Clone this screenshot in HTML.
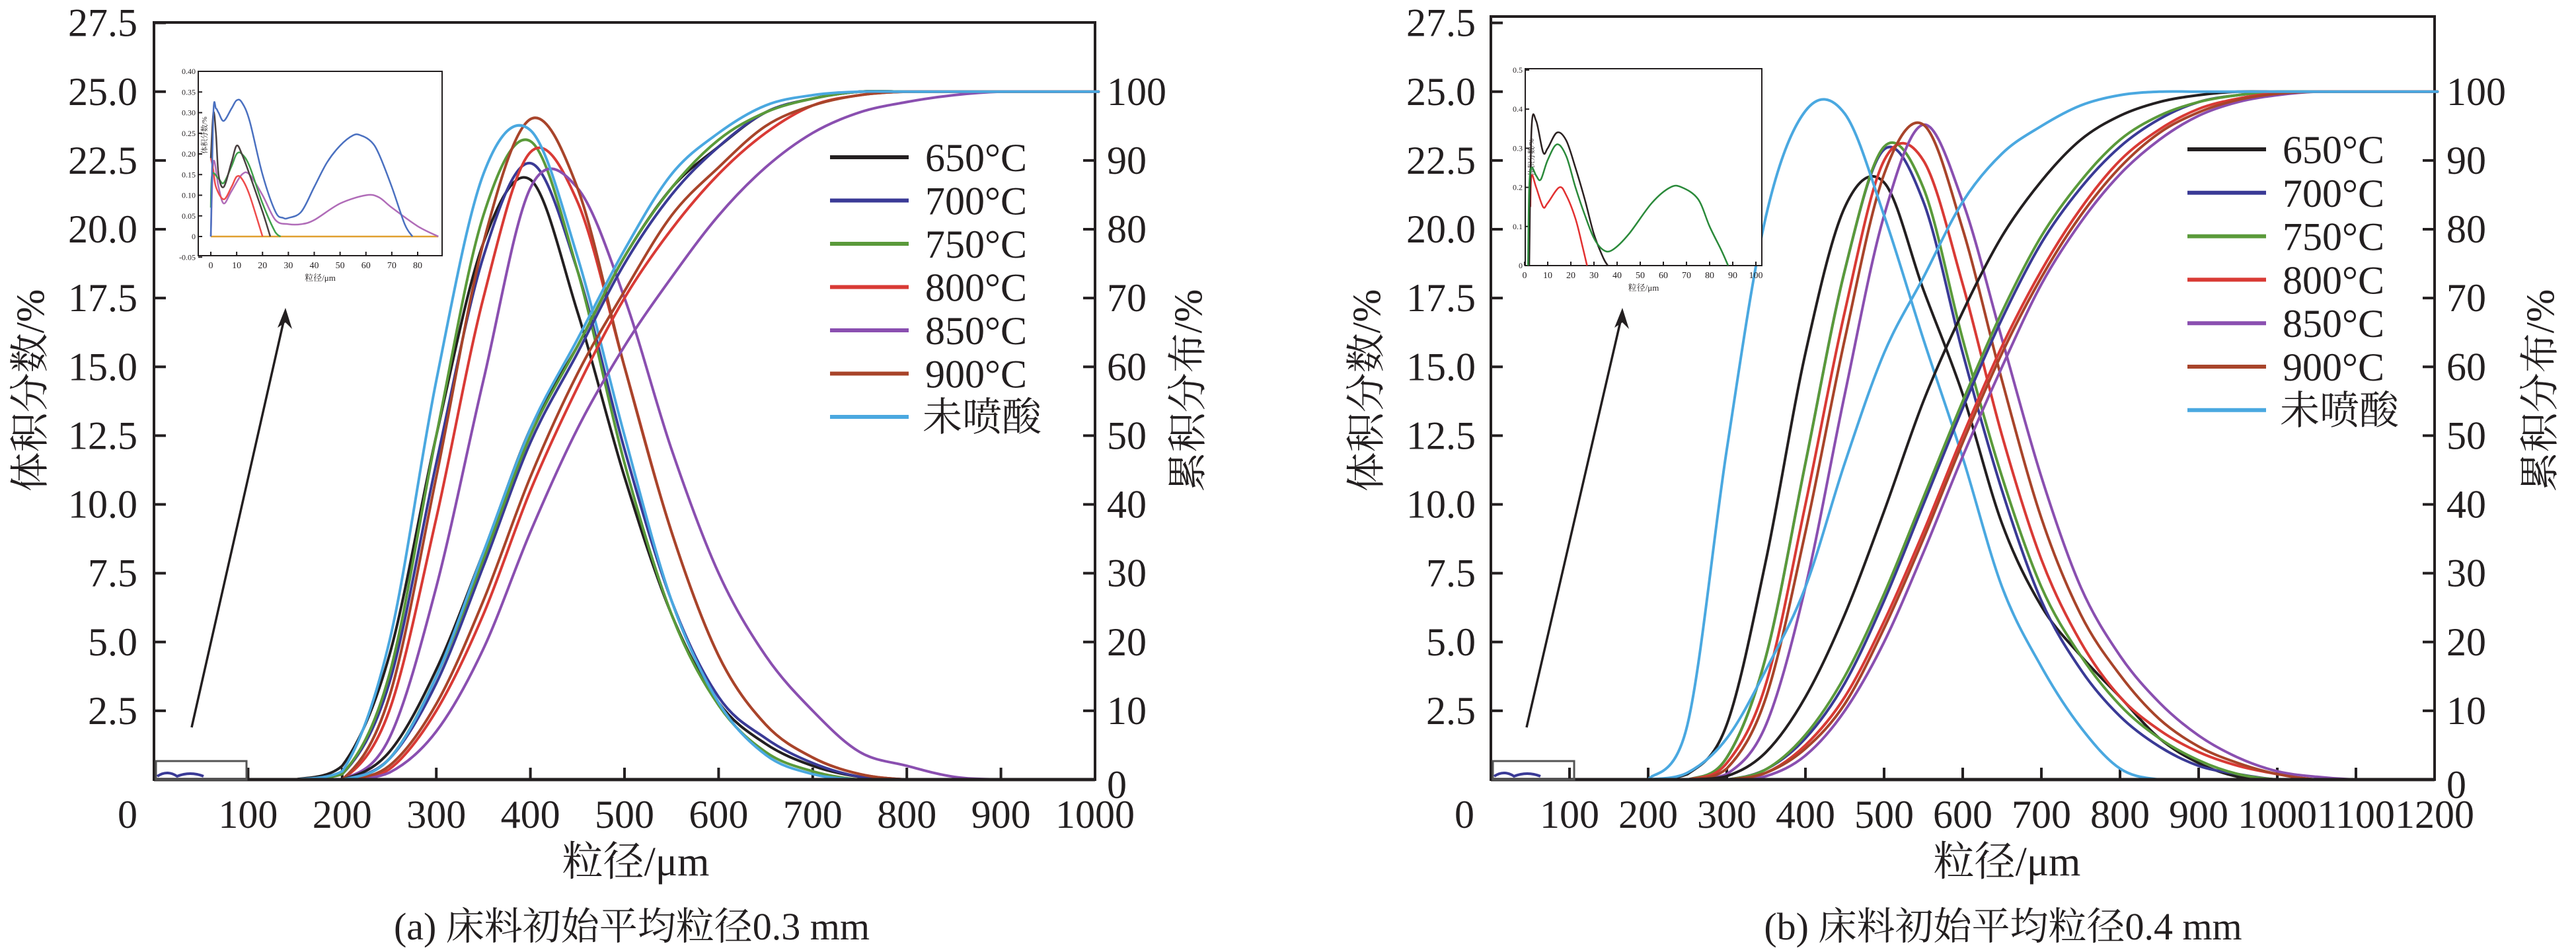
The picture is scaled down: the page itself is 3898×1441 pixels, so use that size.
<!DOCTYPE html>
<html><head><meta charset="utf-8"><style>
html,body{margin:0;padding:0;background:#fff;}
svg{display:block;font-family:"Liberation Serif","Noto Serif CJK SC",serif;}
</style></head><body>
<svg id="fig" width="3898" height="1441" viewBox="0 0 3898 1441" xmlns="http://www.w3.org/2000/svg">
<rect x="0" y="0" width="3898" height="1441" fill="#fff"/>
<g id="chartA"></g>
<g id="chartB"></g>
</svg>
<script>
// ---------- data ----------
const seriesNames = ["650°C","700°C","750°C","800°C","850°C","900°C","未喷酸"];
const seriesColors = ["#231f20","#3a3a96","#5a9a3a","#d93a35","#8a4fb0","#a8442a","#4aa8e0"];
const yLeftTicks = ["2.5","5.0","7.5","10.0","12.5","15.0","17.5","20.0","22.5","25.0","27.5"];
const yRightTicks = ["0","10","20","30","40","50","60","70","80","90","100"];

const xsA = [150,200,250,300,350,400,450,500,550,600,650,700,750,800,850,900,950,1000];
const xTicksA = [0,100,200,300,400,500,600,700,800,900,1000];
const freqA650 = [0,0.5,4.5,12.5,19.5,21.8,17,11,6,2.8,1.3,0.5,0.1,0,0,0,0,0];
const freqA700 = [0,0.2,3.5,11.5,19,22.4,18.5,12,6.5,3,1.5,0.6,0.1,0,0,0,0,0];
const freqA750 = [0,0.2,3.8,12.5,20.5,23.2,18.5,11.5,6,2.7,1,0.3,0,0,0,0,0,0];
const freqA800 = [0,0,2.5,9.5,17.5,22.8,21,15,9,4.5,2,0.8,0.2,0,0,0,0,0];
const freqA850 = [0,0,1.5,7,14.5,21.5,21.5,17.5,12,7.5,4.5,2.5,1,0.5,0.1,0,0,0];
const freqA900 = [0,0,3,11,19.5,24,21.5,15,9,4.5,2,0.8,0.2,0,0,0,0,0];
const freqAraw = [0,0.3,5,14.5,22,23.6,19,12.5,6.5,2.8,0.9,0.2,0,0,0,0,0,0];
const cumA650 = [0,0,4,16,33,51,63,76,86,92,97,99,100,100,100,100,100,100];
const cumA700 = [0,0,3,14,31,49,62,75,85,92,97,99,100,100,100,100,100,100];
const cumA750 = [0,0,3,15,32,50,63,76,86,93,97,99,100,100,100,100,100,100];
const cumA800 = [0,0,1.5,10,24,42,57,70,80,88,94,98,99.5,100,100,100,100,100];
const cumA850 = [0,0,1,7,19,36,51,63,73,82,89,94,97,98.5,99.5,100,100,100];
const cumA900 = [0,0,2,11,26,44,59,71,82,89,95,98,99.5,100,100,100,100,100];
const cumAraw = [0,0,3,15,33,51,64,77,88,94,98,99.5,100,100,100,100,100,100];

const xsB = [200,250,300,350,400,450,500,550,600,650,700,750,800,850,900,950,1000,1050,1100,1150,1200];
const xTicksB = [0,100,200,300,400,500,600,700,800,900,1000,1100,1200];
const freqB650 = [0,0.2,2,8,15.5,20.8,21.7,17.8,14,9.3,6.3,4.5,3,1.5,0.6,0.1,0,0,0,0,0];
const freqB700 = [0,0,0.8,4.5,11.5,18.5,22.9,21,15.5,10.5,6.5,4,2.3,1.2,0.5,0.2,0,0,0,0,0];
const freqB750 = [0,0,0.8,4.5,11.5,18.5,23,21.5,16,11,7,4.5,2.7,1.5,0.7,0.2,0,0,0,0,0];
const freqB800 = [0,0,0.6,3.5,10,17,22.5,22.5,18,12.5,8,5,3,1.8,1,0.5,0.2,0,0,0,0];
const freqB850 = [0,0,0.2,2,7,14,20.5,23.8,21,16,11,7,4.5,2.8,1.6,0.8,0.3,0.1,0,0,0];
const freqB900 = [0,0,0.4,3,9,16,22,23.8,20,14.5,9.5,6,3.8,2.2,1.2,0.6,0.2,0,0,0,0];
const freqBraw = [0,2,12,20.5,24.3,24.2,20.5,16,11.7,7,4.1,1.9,0.4,0,0,0,0,0,0,0,0];
const cumB650 = [0,0,0.5,4,12,24,39,55,68,79,87,93,96.5,98.5,99.5,100,100,100,100,100,100];
const cumB700 = [0,0,0,1.5,6,14,26,40,54,67,78,86,92,96,98.5,99.5,100,100,100,100,100];
const cumB750 = [0,0,0,1.5,6.5,15,27,41,55,68,79,87,93,96.5,98.5,99.5,100,100,100,100,100];
const cumB800 = [0,0,0,1,5,12,23,36,50,63,74,83,90,94.5,97.5,99,99.8,100,100,100,100];
const cumB850 = [0,0,0,0.5,3.5,10,20,33,47,60,72,81,88,93,96.5,98.5,99.5,100,100,100,100];
const cumB900 = [0,0,0,1,4.5,11,22,35,49,62,73,82,89,94,97,98.8,99.7,100,100,100,100];
const cumBraw = [0,1,6,16,28,46,62,73,84,91,95,98,99.5,100,100,100,100,100,100,100,100];

// insets
const insAxTicksY = ["-0.05","0","0.05","0.10","0.15","0.20","0.25","0.30","0.35","0.40"];
const insAxTicksX = [0,10,20,30,40,50,60,70,80];
const insAblueX = [0,1,2,3,5,8,10,12,15,20,25,28,30,35,40,45,50,55,58,62,65,70,75,78];
const insAblueY = [0,0.3,0.31,0.3,0.28,0.31,0.33,0.325,0.28,0.15,0.06,0.045,0.045,0.06,0.12,0.18,0.22,0.245,0.245,0.23,0.2,0.12,0.03,0];
const insAblackX = [0,1,2,3,5,8,10,12,15,20,23];
const insAblackY = [0.19,0.3,0.25,0.15,0.12,0.18,0.22,0.2,0.15,0.06,0];
const insAgreenX = [0,0.5,3,5,8,10,12,15,20,25,27];
const insAgreenY = [0.07,0.15,0.14,0.13,0.17,0.2,0.2,0.17,0.08,0.01,0];
const insAredX = [0,1,2,5,8,10,12,15,20];
const insAredY = [0.19,0.16,0.12,0.09,0.12,0.145,0.14,0.1,0];
const insApurpleX = [0,1,3,5,8,12,15,20,25,30,35,40,50,60,65,70,80,88];
const insApurpleY = [0,0.18,0.12,0.08,0.11,0.15,0.15,0.1,0.04,0.03,0.03,0.04,0.08,0.1,0.095,0.07,0.025,0];
const insBTicksY = ["0","0.1","0.2","0.3","0.4","0.5"];
const insBTicksX = [0,10,20,30,40,50,60,70,80,90,100];
const insBblackX = [2,3,5,8,10,14,18,22,26,30,34,36];
const insBblackY = [0,0.35,0.37,0.29,0.3,0.34,0.32,0.25,0.17,0.08,0.02,0];
const insBgreenX = [1.5,2,3,5,7,10,14,18,22,26,30,34,38,45,55,63,68,75,80,85,88];
const insBgreenY = [0,0.2,0.25,0.23,0.22,0.27,0.31,0.28,0.2,0.13,0.07,0.04,0.04,0.08,0.16,0.2,0.2,0.17,0.1,0.04,0];
const insBredX = [2.5,3,5,8,10,15,18,22,25,27];
const insBredY = [0.15,0.23,0.2,0.15,0.16,0.2,0.18,0.12,0.05,0];

// ---------- helpers ----------
const NS = "http://www.w3.org/2000/svg";
function mk(parent, tag, attrs){ const e=document.createElementNS(NS,tag); for(const k in attrs) e.setAttribute(k,attrs[k]); parent.appendChild(e); return e; }
function smooth(pts, ymaxPix){
  const cl=v=> (ymaxPix!==undefined && v>ymaxPix)?ymaxPix:v;
  let d="M"+pts[0][0].toFixed(1)+","+cl(pts[0][1]).toFixed(1);
  for(let i=0;i<pts.length-1;i++){
    const p0=pts[i-1]||pts[i], p1=pts[i], p2=pts[i+1], p3=pts[i+2]||p2;
    const c1=[p1[0]+(p2[0]-p0[0])/6, cl(p1[1]+(p2[1]-p0[1])/6)];
    const c2=[p2[0]-(p3[0]-p1[0])/6, cl(p2[1]-(p3[1]-p1[1])/6)];
    d+=" C"+c1[0].toFixed(1)+","+c1[1].toFixed(1)+" "+c2[0].toFixed(1)+","+c2[1].toFixed(1)+" "+p2[0].toFixed(1)+","+cl(p2[1]).toFixed(1);
  }
  return d;
}
function txt(parent, x, y, s, size, anchor, extra){
  const t=mk(parent,"text",Object.assign({x:x,y:y,"font-size":size,"text-anchor":anchor||"middle",fill:"#231f20"},extra||{}));
  t.textContent=s; return t;
}

function drawMain(g, cfg){
  const X=v=>cfg.x0+(v-cfg.xmin)/(cfg.xmax-cfg.xmin)*(cfg.x1-cfg.x0);
  const Y=v=>cfg.y0-v*cfg.unit;
  const Yr=v=>Y(v*0.25);
  const fr=mk(g,"rect",{x:cfg.x0,y:cfg.ftop,width:cfg.x1-cfg.x0,height:cfg.y0-cfg.ftop,fill:"none",stroke:"#231f20","stroke-width":4});
  
  
  yLeftTicks.forEach(s=>{
    const v=parseFloat(s), y=Y(v);
    const l=mk(g,"line",{x1:cfg.x0,x2:cfg.x0+18,y1:y,y2:y,stroke:"#231f20","stroke-width":4});
    
    
    const t=txt(g,cfg.ylabX,y+20,s,60,"end");
    
    
  });
  yRightTicks.forEach(s=>{
    const v=parseFloat(s), y=Yr(v);
    const l=mk(g,"line",{x1:cfg.x1-18,x2:cfg.x1,y1:y,y2:y,stroke:"#231f20","stroke-width":4});
    
    
    const t=txt(g,cfg.x1+18,y+(v===0?28:20),s,60,"start");
    
    
  });
  cfg.xticks.forEach(v=>{
    const x=X(v);
    if(v>0){
      const l=mk(g,"line",{x1:x,x2:x,y1:cfg.y0,y2:cfg.y0-18,stroke:"#231f20","stroke-width":4});
      
      
    }
    const t=txt(g,v===0?x-40:x,1253,String(v),60,"middle");
    
    
  });
  cfg.freq.forEach((arr,i)=>{
    const p=mk(g,"path",{d:smooth(arr.map((v,j)=>[X(cfg.xs[j]),Y(v)]),cfg.y0),fill:"none",stroke:seriesColors[i],"stroke-width":4});
    
    
  });
  cfg.cum.forEach((arr,i)=>{
    const pts=arr.map((v,j)=>[X(cfg.xs[j]),Yr(v)]);
    pts.push([X(cfg.xmax),Yr(100)]);
    const p=mk(g,"path",{d:smooth(pts,cfg.y0),fill:"none",stroke:seriesColors[i],"stroke-width":4});
    
    
  });
  const bl=mk(g,"line",{x1:cfg.x0,x2:cfg.x1,y1:cfg.y0,y2:cfg.y0,stroke:"#231f20","stroke-width":5});
  
  
  const sb=mk(g,"rect",{x:cfg.x0+3,y:cfg.y0-28,width:cfg.sbw,height:28,fill:"none",stroke:"#555","stroke-width":3});
  
  
  const sq=mk(g,"path",{d:`M${cfg.x0+5},${cfg.y0-5} q15,-10 30,0 q20,-8 40,0`,fill:"none",stroke:"#3a3a96","stroke-width":4});
  
  
  const ar=mk(g,"line",{x1:cfg.ax1,y1:1101,x2:cfg.ax2,y2:478,stroke:"#231f20","stroke-width":3.5});
  
  
  const ah=mk(g,"path",{d:`M${cfg.ax2+1},466 l-12,30 l12,-8 l10,10 z`,fill:"#231f20"});
  
  
  seriesNames.forEach((n,i)=>{
    const y=cfg.legY0+i*cfg.legDy;
    const l=mk(g,"line",{x1:cfg.legX,x2:cfg.legX+119,y1:y,y2:y,stroke:seriesColors[i],"stroke-width":6});
    
    
    const t=txt(g,cfg.legX+(i===6?140:144),y+21,n,60,"start");
    
    
  });
  const yt=txt(g,0,0,"体积分数/%",60,"middle",{transform:`translate(${cfg.ytL},591) rotate(-90)`});
  
  
  const yr=txt(g,0,0,"累积分布/%",60,"middle",{transform:`translate(${cfg.ytR},591) rotate(-90)`});
  
  
  const xt=txt(g,cfg.xtX,1325,"粒径/μm",62,"middle");
  
  
  const cp=txt(g,cfg.xtX-6,1422,cfg.caption,58,"middle");
  
  
}

function drawInset(g, c){
  const X=v=>c.x0+(v-c.xmin)/(c.xmax-c.xmin)*(c.x1-c.x0);
  const Y=v=>c.yz-(v/c.ystep)*c.ypx;
  const bx=mk(g,"rect",{x:c.bx0,y:c.by0,width:c.bx1-c.bx0,height:c.by1-c.by0,fill:"#fff",stroke:"#231f20","stroke-width":2});
  
  
  c.yticks.forEach(s=>{
    const y=Y(parseFloat(s));
    const l=mk(g,"line",{x1:c.bx0,x2:c.bx0+6,y1:y,y2:y,stroke:"#231f20","stroke-width":2});
    
    
    const t=txt(g,c.bx0-4,y+4,s,12,"end");
    
    
  });
  c.xticks.forEach(v=>{
    const x=X(v);
    const l=mk(g,"line",{x1:x,x2:x,y1:c.by1,y2:c.by1-6,stroke:"#231f20","stroke-width":2});
    
    
    const t=txt(g,x,c.by1+19,String(v),14,"middle");
    
    
  });
  const xt=txt(g,(c.bx0+c.bx1)/2,c.by1+38,"粒径/μm",13,"middle");
  
  
  const yt=txt(g,0,0,"体积分数/%",11,"middle",{transform:`translate(${c.bx0+13},${c.yz-(c.by1-c.by0)*0.55}) rotate(-90)`});
  
  
  if(c.base){
    const b=mk(g,"line",{x1:X(0),x2:X(88),y1:Y(0),y2:Y(0),stroke:"#e0a030","stroke-width":2.5});
    
    
  }
  c.series.forEach(s=>{
    const p=mk(g,"path",{d:smooth(s.x.map((v,j)=>[X(v),Y(s.y[j])]),Y(0)),fill:"none",stroke:s.c,"stroke-width":2.5});
    
    
  });
}

const gA=document.getElementById("chartA"), gB=document.getElementById("chartB");
drawMain(gA,{x0:233,x1:1657,xmin:0,xmax:1000,y0:1180,ftop:34,unit:41.65,xs:xsA,xticks:xTicksA,
  freq:[freqA650,freqA700,freqA750,freqA800,freqA850,freqA900,freqAraw],
  cum:[cumA650,cumA700,cumA750,cumA800,cumA850,cumA900,cumAraw],
  ylabX:208,legX:1256,legY0:238,legDy:65.5,ytL:66,ytR:1818,xtX:962,caption:"(a) 床料初始平均粒径0.3 mm",
  sbw:137,ax1:290,ax2:431});
drawMain(gB,{x0:2256,x1:3684,xmin:0,xmax:1200,y0:1180,ftop:25,unit:41.65,xs:xsB,xticks:xTicksB,
  freq:[freqB650,freqB700,freqB750,freqB800,freqB850,freqB900,freqBraw],
  cum:[cumB650,cumB700,cumB750,cumB800,cumB850,cumB900,cumBraw],
  ylabX:2233,legX:3310,legY0:226,legDy:65.8,ytL:2088,ytR:3864,xtX:3037,caption:"(b) 床料初始平均粒径0.4 mm",
  sbw:123,ax1:2310,ax2:2454});
drawInset(gA,{bx0:300,bx1:669,by0:108,by1:387,x0:319,x1:632,xmin:0,xmax:80,yz:358,ystep:0.05,ypx:31.25,
  yticks:insAxTicksY,xticks:insAxTicksX,base:true,
  series:[{x:insApurpleX,y:insApurpleY,c:"#b06cb8"},{x:insAredX,y:insAredY,c:"#ee4b4b"},{x:insAgreenX,y:insAgreenY,c:"#3fa04a"},
          {x:insAblackX,y:insAblackY,c:"#4a4040"},{x:insAblueX,y:insAblueY,c:"#4a70c0"}]});
drawInset(gB,{bx0:2308,bx1:2666,by0:104,by1:402,x0:2307,x1:2657,xmin:0,xmax:100,yz:402,ystep:0.1,ypx:59.2,
  yticks:insBTicksY,xticks:insBTicksX,base:false,
  series:[{x:insBredX,y:insBredY,c:"#e23030"},{x:insBblackX,y:insBblackY,c:"#2a2020"},{x:insBgreenX,y:insBgreenY,c:"#2a8a3a"}]});
</script>
</body></html>
